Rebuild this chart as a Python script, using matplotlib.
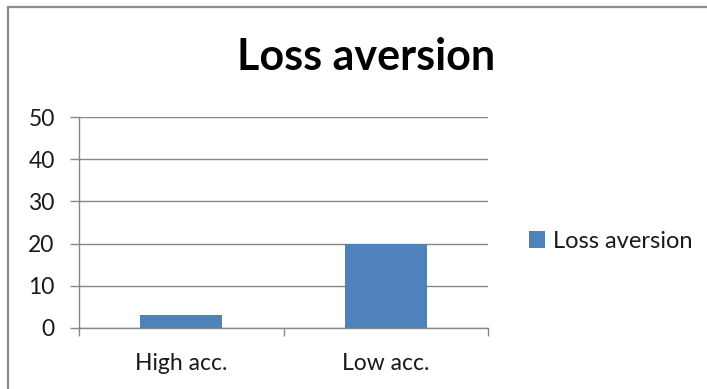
import matplotlib
matplotlib.use("Agg")
import matplotlib.pyplot as plt
from matplotlib.patches import Rectangle

categories = ["High acc.", "Low acc."]
loss_aversion = [3, 20]
series_name = "Loss aversion"
y_ticks = [0, 10, 20, 30, 40, 50]

plt.rcParams["font.family"] = ["Lato", "DejaVu Sans"]

BLUE = "#4F81BD"
GRID = "#878787"
TEXT = "#1a1a1a"
FS = 16.5

fig = plt.figure(figsize=(7.07, 3.89), dpi=100)
fig.patch.set_facecolor("white")

# chart frame
fig.patches.append(Rectangle((8 / 707, -0.1), 1.2, 1.1 - 7 / 389,
                             transform=fig.transFigure, fill=False,
                             edgecolor="#8c8c8c", linewidth=1.6, zorder=0))

ax = fig.add_axes([79 / 707, 1 - 328 / 389, 409 / 707, 211 / 389])
x = range(len(categories))
ax.bar(x, loss_aversion, width=0.4, color=BLUE, zorder=3, label=series_name)

ax.set_xlim(-0.5, len(categories) - 0.5)
ax.set_ylim(0, 50)
ax.set_yticks(y_ticks)
ax.set_yticklabels([str(v) for v in y_ticks], fontsize=FS, color=TEXT)
ax.set_xticks([i - 0.5 for i in range(len(categories) + 1)])
ax.set_xticklabels([])
ax.set_xticks(list(x), minor=True)
ax.set_xticklabels(categories, minor=True, fontsize=FS, color=TEXT)
ax.tick_params(axis="x", which="minor", length=0, pad=18)
ax.tick_params(axis="x", which="major", length=5.5, width=1, color=GRID, direction="out")
ax.tick_params(axis="y", length=6.5, width=1, color=GRID, direction="out", pad=11)

ax.yaxis.grid(True, color=GRID, linewidth=1)
ax.set_axisbelow(True)
for side in ("top", "right"):
    ax.spines[side].set_visible(False)
for side in ("left", "bottom"):
    ax.spines[side].set_color(GRID)
    ax.spines[side].set_linewidth(1)

fig.text(366 / 707, 1 - 57 / 389, "Loss aversion", ha="center", va="center",
         fontsize=31, fontweight="bold", color="black")

fig.legend(loc="center left", bbox_to_anchor=(508 / 707, 1 - 241.5 / 389),
           frameon=False, fontsize=FS + 0.5, handlelength=0.65, handleheight=0.7,
           handletextpad=0.35, labelcolor=TEXT)

fig.savefig("out.png", dpi=100, facecolor="white")
